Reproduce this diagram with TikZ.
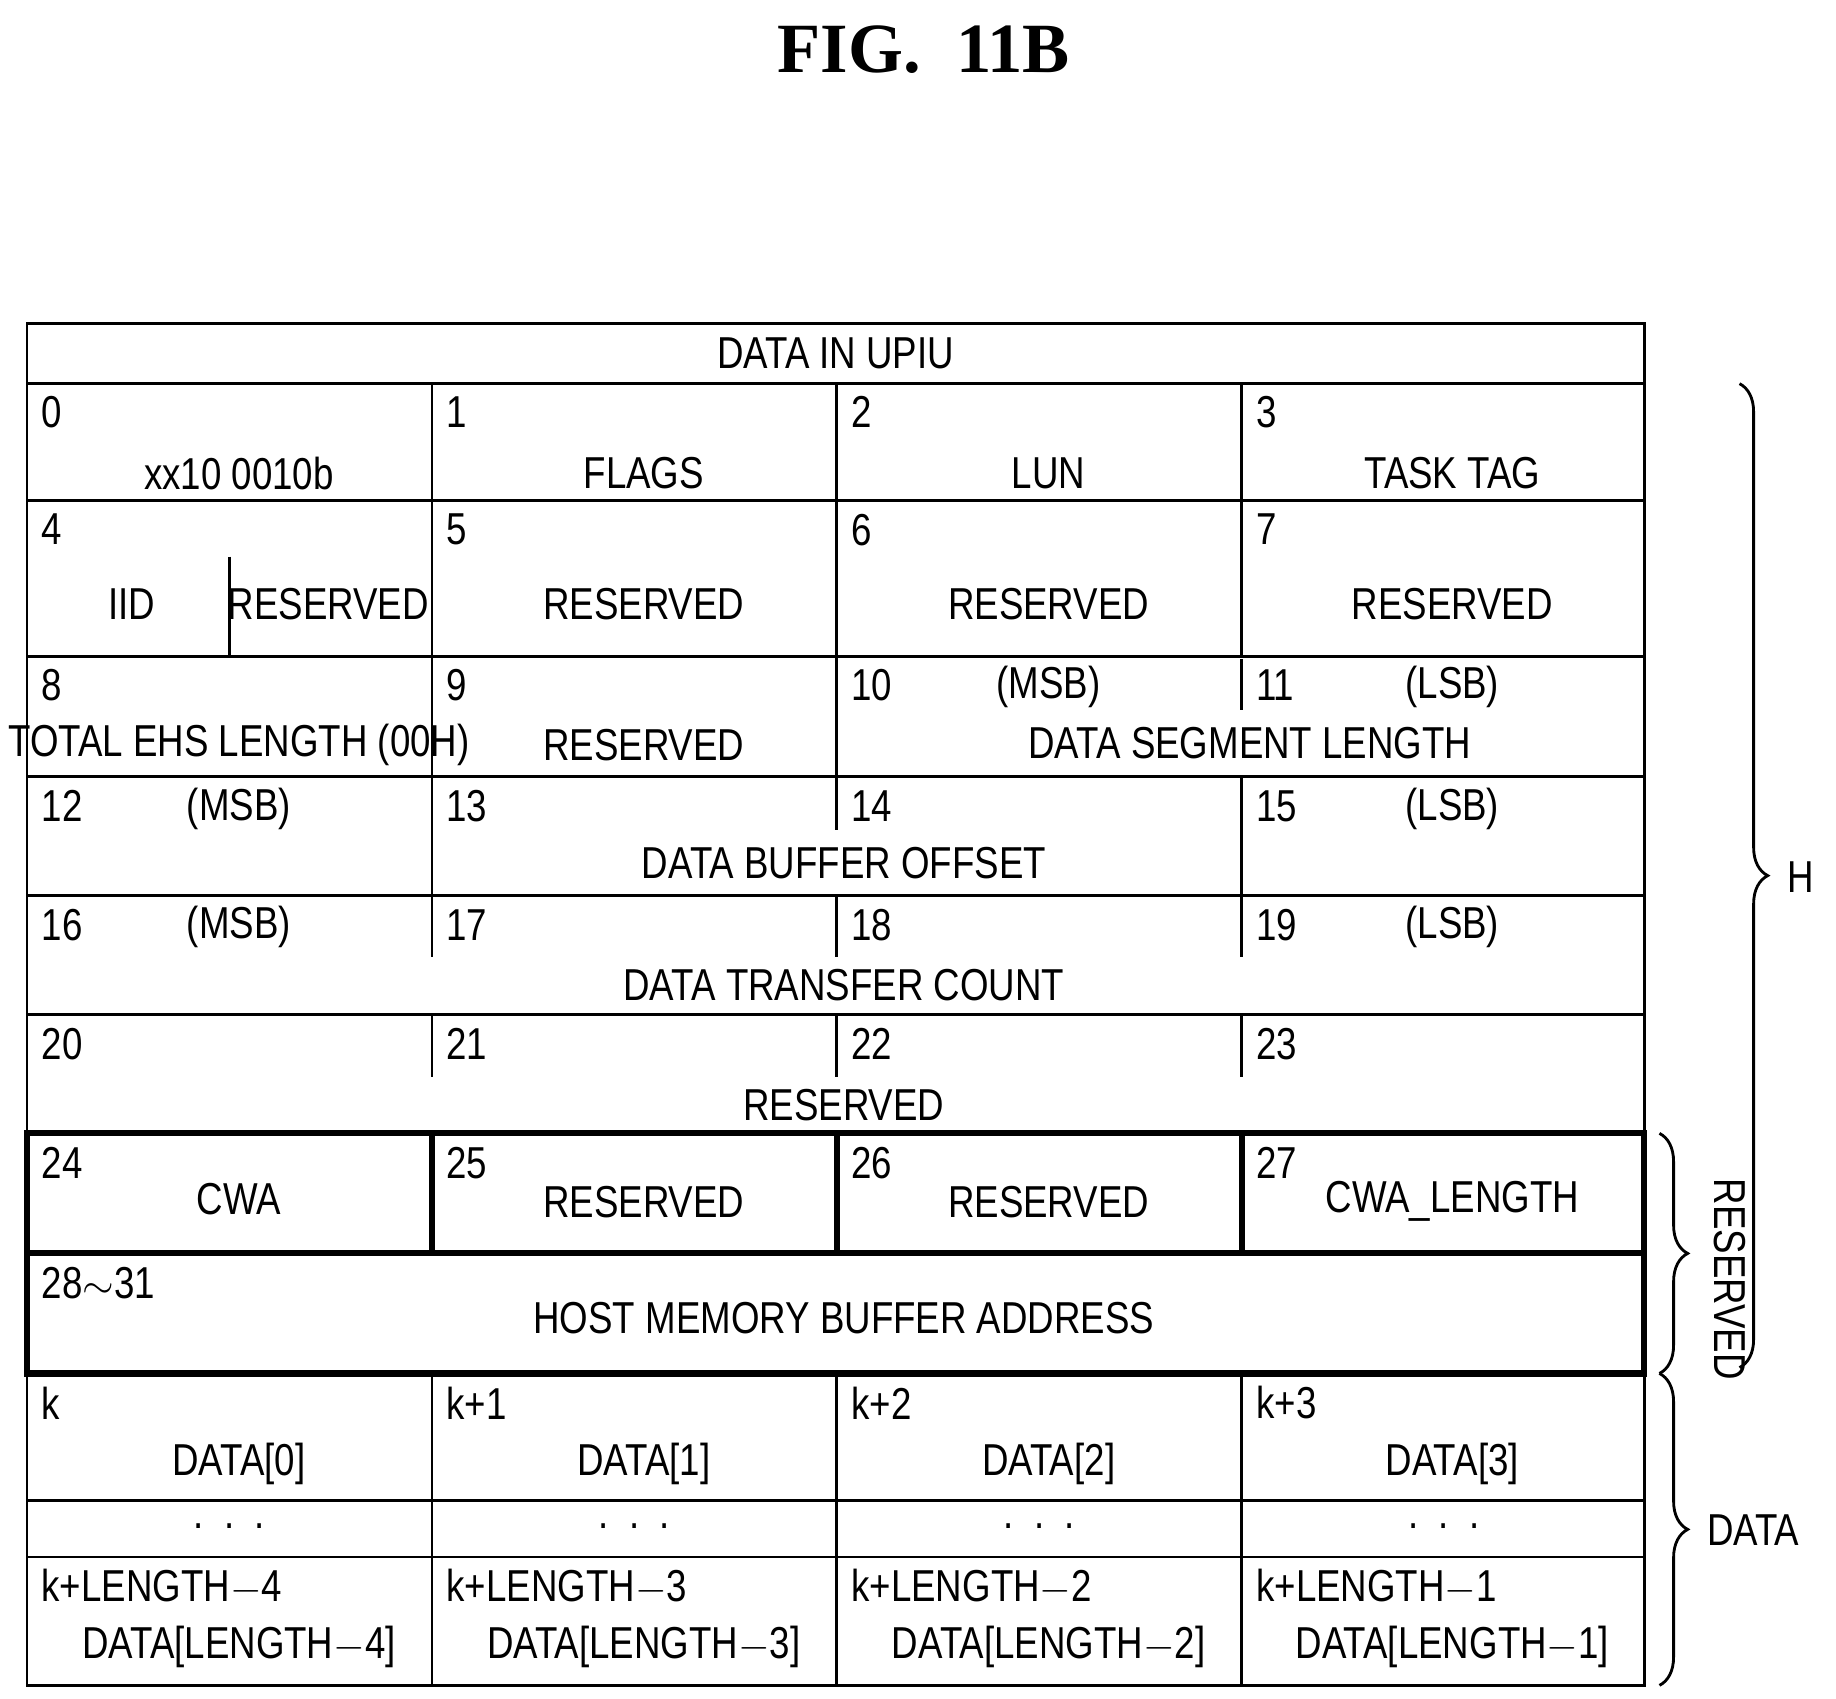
\documentclass[tikz,border=0pt]{standalone}
\usepackage{fontspec}
\setmainfont{Liberation Sans}[FakeStretch=0.82]
\newfontfamily\titlefont{Liberation Serif}
\usetikzlibrary{decorations.pathreplacing}
\begin{document}
\begin{tikzpicture}[x=0.5pt,y=-0.5pt,
  ln/.style={line width=1.2pt},
  thk/.style={line width=2.6pt},
  num/.style={anchor=west,inner sep=0pt,font=\fontsize{19}{19}\selectfont},
  lab/.style={inner sep=0pt,font=\fontsize{19}{19}\selectfont},
  brc/.style={decorate,decoration={brace,amplitude=12pt},line width=1.2pt}]
\useasboundingbox (0,0) rectangle (1560,1443);
\node[font=\titlefont\bfseries\fontsize{30}{30}\selectfont] (title) at (785,42) {FIG.\ \ 11B};
% grid
\draw[ln] (23,275) rectangle (1397,1432);
\foreach \y in {326,425,558,660,761,862,963,1167,1275,1323} \draw[ln] (23,\y) -- (1397,\y);
\node[lab] (t0) at (710,300) {DATA IN UPIU};
% full verticals
\foreach \x in {367,711,1055} {
  \draw[ln] (\x,326) -- (\x,558);
  \draw[ln] (\x,1167) -- (\x,1432);
  \draw[ln] (\x,560) -- (\x,603);
  \draw[ln] (\x,761) -- (\x,813);
  \draw[ln] (\x,862) -- (\x,915);
}
\draw[ln] (367,558) -- (367,660);
\draw[ln] (711,558) -- (711,660);
\draw[ln] (367,660) -- (367,761);
\draw[ln] (711,660) -- (711,705);
\draw[ln] (1055,660) -- (1055,761);
\draw[ln] (195,473) -- (195,558);
% thick region
\draw[thk] (23,963) rectangle (1397,1065);
\draw[thk] (23,1065) rectangle (1397,1167);
\foreach \x in {367,711,1055} \draw[thk] (\x,963) -- (\x,1065);
% row 0
\node[num] (n0) at (35,350) {0};  \node[lab] (l0) at (203,402) {xx10 0010b};
\node[num] (n1) at (379,350) {1}; \node[lab] (l1) at (547,402) {FLAGS};
\node[num] (n2) at (723,350) {2}; \node[lab] (l2) at (891,402) {LUN};
\node[num] (n3) at (1067,350) {3};\node[lab] (l3) at (1234,402) {TASK TAG};
% row 4
\node[num] (n4) at (35,450) {4};  \node[lab] (l4a) at (112,513) {IID};
\node[lab] (l4b) at (279,513) {RESERVED};
\node[num] (n5) at (379,450) {5}; \node[lab] (l5) at (547,513) {RESERVED};
\node[num] (n6) at (723,450) {6}; \node[lab] (l6) at (891,513) {RESERVED};
\node[num] (n7) at (1067,450) {7};\node[lab] (l7) at (1234,513) {RESERVED};
% row 8
\node[num] (n8) at (35,582) {8};  \node[lab] (l8) at (203,633) {TOTAL EHS LENGTH (00H)};
\node[num] (n9) at (379,582) {9}; \node[lab] (l9) at (547,633) {RESERVED};
\node[num] (n10) at (723,582) {10}; \node[lab] (m10) at (891,584) {(MSB)};
\node[num] (n11) at (1067,582) {11};\node[lab] (m11) at (1234,584) {(LSB)};
\node[lab] (l10) at (1062,631) {DATA SEGMENT LENGTH};
% row 12
\node[num] (n12) at (35,685) {12}; \node[lab] (m12) at (203,687) {(MSB)};
\node[num] (n13) at (379,685) {13};
\node[num] (n14) at (723,685) {14};
\node[num] (n15) at (1067,685) {15}; \node[lab] (m15) at (1234,687) {(LSB)};
\node[lab] (l12) at (717,733) {DATA BUFFER OFFSET};
% row 16
\node[num] (n16) at (35,786) {16}; \node[lab] (m16) at (203,788) {(MSB)};
\node[num] (n17) at (379,786) {17};
\node[num] (n18) at (723,786) {18};
\node[num] (n19) at (1067,786) {19}; \node[lab] (m19) at (1234,788) {(LSB)};
\node[lab] (l16) at (717,837) {DATA TRANSFER COUNT};
% row 20
\node[num] (n20) at (35,887) {20};
\node[num] (n21) at (379,887) {21};
\node[num] (n22) at (723,887) {22};
\node[num] (n23) at (1067,887) {23};
\node[lab] (l20) at (717,939) {RESERVED};
% row 24
\node[num] (n24) at (35,988) {24}; \node[lab] (l24) at (203,1019) {CWA};
\node[num] (n25) at (379,988) {25}; \node[lab] (l25) at (547,1021) {RESERVED};
\node[num] (n26) at (723,988) {26}; \node[lab] (l26) at (891,1021) {RESERVED};
\node[num] (n27) at (1067,988) {27}; \node[lab] (l27) at (1234,1021) {CWA\_LENGTH};
% row 28
\node[num] (n28) at (35,1090) {28$\sim$31};
\node[lab] (l28) at (717,1120) {HOST MEMORY BUFFER ADDRESS};
% data
\node[num] (nk0) at (35,1192) {k};       \node[lab] (d0) at (203,1244) {DATA[0]};
\node[num] (nk1) at (379,1192) {k+1};    \node[lab] (d1) at (547,1244) {DATA[1]};
\node[num] (nk2) at (723,1192) {k+2};    \node[lab] (d2) at (891,1244) {DATA[2]};
\node[num] (nk3) at (1067,1192) {k+3};   \node[lab] (d3) at (1234,1244) {DATA[3]};
\foreach \x/\n in {195/a,539/b,883/c,1227/d} \node[lab] (dots\n) at (\x,1297) {.\ \ .\ \ .};
\node[num] (nl4) at (35,1348) {k+LENGTH$-$4};  \node[lab] (dl4) at (203,1399) {DATA[LENGTH$-$4]};
\node[num] (nl3) at (379,1348) {k+LENGTH$-$3}; \node[lab] (dl3) at (547,1399) {DATA[LENGTH$-$3]};
\node[num] (nl2) at (723,1348) {k+LENGTH$-$2}; \node[lab] (dl2) at (891,1399) {DATA[LENGTH$-$2]};
\node[num] (nl1) at (1067,1348) {k+LENGTH$-$1};\node[lab] (dl1) at (1234,1399) {DATA[LENGTH$-$1]};
% braces
\draw[brc] (1478,326) -- (1478,1162);
\node[lab,anchor=west] (bh) at (1518,745) {H};
\draw[brc] (1410,963) -- (1410,1167);
\node[lab,rotate=-90] (br) at (1470,1087) {RESERVED};
\draw[brc] (1410,1167) -- (1410,1432);
\node[lab,anchor=west] (bd) at (1450,1300) {DATA};
\end{tikzpicture}
\end{document}
